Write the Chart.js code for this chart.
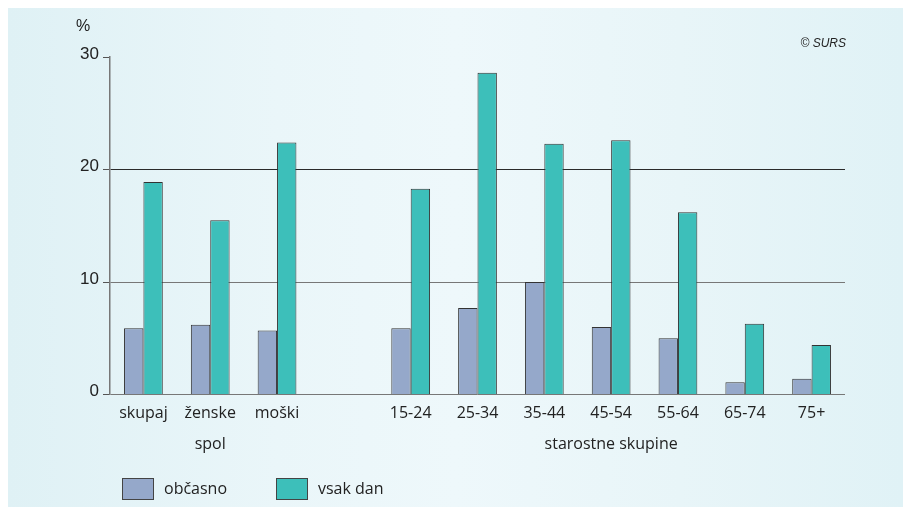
<!DOCTYPE html>
<html>
<head>
<meta charset="utf-8">
<script src="https://cdn.jsdelivr.net/npm/chart.js@4.4.1/dist/chart.umd.min.js"></script>
<style>
    html, body { margin: 0; padding: 0; width: 903px; height: 507px; overflow: hidden; background: #fff; }
    .panel {
        position: absolute; left: 8px; top: 8px; width: 895px; height: 499px;
        background: linear-gradient(to right, #dff1f5 0%, #eaf6f9 30%, #eef8fb 50%, #e8f5f8 75%, #e0f2f6 100%);
    }
    #chart { position: absolute; left: 0; top: 0; }
    .unit { position: absolute; left: 68px; top: 10px; font: 16px "Liberation Sans", Arial, sans-serif; line-height: 16px; color: #222; }
    .copy { position: absolute; right: 57px; top: 29px; font: italic 12px "Liberation Sans", Arial, sans-serif; line-height: 12px; color: #222; }
</style>
</head>
<body>
<div class="panel">
    <canvas id="chart" width="895" height="499"></canvas>
    <div class="unit">%</div>
    <div class="copy">© SURS</div>
</div>

<script>
// kategorije (prazen stolpec loči spol in starostne skupine)
const categories = ['skupaj', 'ženske', 'moški', '', '15-24', '25-34', '35-44', '45-54', '55-64', '65-74', '75+'];
const groupLabels = ['', 'spol', '', '', '', '', '', 'starostne skupine', '', '', ''];
const obcasno  = [5.9, 6.2, 5.7, null, 5.9, 7.7, 10.0, 6.0, 5.0, 1.1, 1.4];
const vsakDan  = [18.9, 15.5, 22.4, null, 18.3, 28.6, 22.3, 22.6, 16.2, 6.3, 4.4];
const yTicks   = [0, 10, 20, 30];

const labels = categories.map((c, i) => groupLabels[i] ? [c, groupLabels[i]] : c);

function gridColor(ctx) {
    const v = ctx.tick && ctx.tick.value;
    if (v === 30) return 'rgba(0,0,0,0)';
    if (v === 20) return '#2a2a2a';
    return '#777';
}

// legenda spodaj levo (kvadrat + besedilo)
const legendBoxes = {
    id: 'legendBoxes',
    afterDraw(chart) {
        const ctx = chart.ctx;
        const xs = [114, 268];
        const y = 470;
        ctx.save();
        chart.data.datasets.forEach((ds, i) => {
            ctx.fillStyle = ds.backgroundColor;
            ctx.fillRect(xs[i], y, 32, 22);
            ctx.strokeStyle = '#444';
            ctx.lineWidth = 1;
            ctx.strokeRect(xs[i] + 0.5, y + 0.5, 31, 21);
            ctx.fillStyle = '#222';
            ctx.font = '16px "Open Sans", sans-serif';
            ctx.textBaseline = 'middle';
            ctx.fillText(ds.label, xs[i] + 42, y + 11);
        });
        ctx.restore();
    }
};

new Chart(document.getElementById('chart'), {
    type: 'bar',
    data: {
        labels: labels,
        datasets: [
            { label: 'občasno',  data: obcasno, backgroundColor: '#95a8ca', borderColor: '#333', borderWidth: 1 },
            { label: 'vsak dan', data: vsakDan, backgroundColor: '#3dbfba', borderColor: '#333', borderWidth: 1 }
        ]
    },
    plugins: [legendBoxes],
    options: {
        responsive: false,
        animation: false,
        layout: { padding: { top: 49, left: 63, right: 58, bottom: 0 } },
        datasets: { bar: { barPercentage: 1, categoryPercentage: 0.58 } },
        plugins: {
            tooltip: { enabled: false },
            legend: { display: false }
        },
        scales: {
            x: {
                grid: { display: false, drawTicks: false },
                border: { display: false },
                ticks: {
                    padding: 4,
                    maxRotation: 0, autoSkip: false,
                    color: '#222',
                    font: { family: '"Open Sans", sans-serif', size: 16, lineHeight: 1.9 }
                },
                afterFit: s => { s.height = 112.5; }
            },
            y: {
                min: 0, max: 30,
                afterBuildTicks: s => { s.ticks = yTicks.map(v => ({ value: v })); },
                grid: { color: gridColor, tickColor: '#555', tickLength: 7, lineWidth: 1 },
                border: { color: '#777', width: 1.5 },
                ticks: {
                    padding: 4,
                    labelOffset: -3,
                    color: '#222',
                    font: { family: '"Liberation Sans", Arial, sans-serif', size: 17 }
                },
                afterFit: s => { s.width = 39; }
            }
        }
    }
});
</script>
</body>
</html>
